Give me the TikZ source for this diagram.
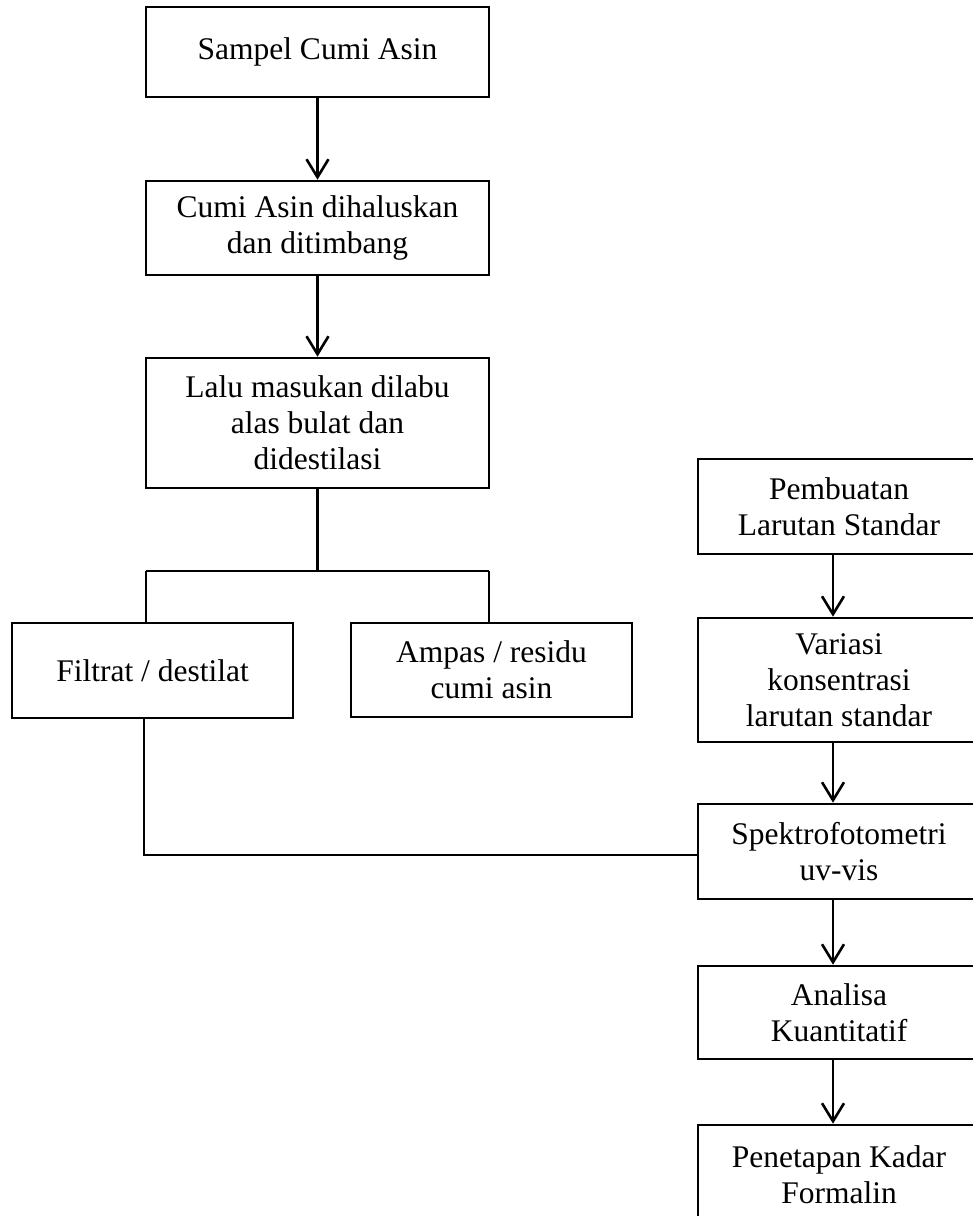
\documentclass[tikz,border=0pt]{standalone}
\usepackage{fontspec}
\setmainfont{Liberation Serif}
\usetikzlibrary{arrows.meta}
\begin{document}
\begin{tikzpicture}[x=1pt,y=-1pt,
  box/.style={draw, line width=2.6pt, inner sep=0pt, align=center,
    font=\fontsize{31.5}{36}\selectfont},
  conn/.style={line width=2.6pt},
  arr/.style={line width=2.6pt, -{Straight Barb[length=18pt,width=22pt,line width=2.6pt]}}]
\useasboundingbox (0,0) rectangle (973,1216);
\fill[white] (0,0) rectangle (973,1216);
% left column
\node[box, minimum width=343pt, minimum height=90pt] (b1) at (317.5,52) {Sampel Cumi Asin};
\node[box, minimum width=343pt, minimum height=94pt] (b2) at (317.5,228) {Cumi Asin dihaluskan\\dan ditimbang};
\node[box, minimum width=343pt, minimum height=130pt] (b3) at (317.5,423) {Lalu masukan dilabu\\alas bulat dan\\didestilasi};
\node[box, minimum width=281pt, minimum height=95pt] (b4) at (152.5,670.5) {Filtrat / destilat};
\node[box, minimum width=281pt, minimum height=94pt] (b5) at (491.5,670) {Ampas / residu\\cumi asin};
% right column
\node[box, minimum width=282pt, minimum height=95pt] (b6) at (839,506.5) {Pembuatan\\Larutan Standar};
\node[box, minimum width=282pt, minimum height=124pt] (b7) at (839,680) {Variasi\\konsentrasi\\larutan standar};
\node[box, minimum width=282pt, minimum height=95pt] (b8) at (839,851.5) {Spektrofotometri\\uv-vis};
\node[box, minimum width=282pt, minimum height=93pt] (b9) at (839,1012.5) {Analisa\\Kuantitatif};
\node[box, minimum width=282pt, minimum height=100pt] (b10) at (839,1175) {Penetapan Kadar\\Formalin};
% helper coordinates
\coordinate (split) at (317.5,571);
\coordinate (lx) at (146,0);
\coordinate (rx) at (489,0);
\coordinate (fx) at (144,0);
\coordinate (jy) at (0,855);
\coordinate (cx) at (833,0);
% left arrows
\draw[arr] (b1.south) -- (b2.north);
\draw[arr] (b2.south) -- (b3.north);
% split
\draw[conn] (b3.south) -- (split);
\draw[conn] (split -| lx) -- (split -| rx);
\draw[conn] (split -| lx) -- (b4.north -| lx);
\draw[conn] (split -| rx) -- (b5.north -| rx);
% join
\draw[conn] (b4.south -| fx) -- (fx |- jy) -- (b8.west |- jy);
% right arrows
\draw[arr] (b6.south -| cx) -- (b7.north -| cx);
\draw[arr] (b7.south -| cx) -- (b8.north -| cx);
\draw[arr] (b8.south -| cx) -- (b9.north -| cx);
\draw[arr] (b9.south -| cx) -- (b10.north -| cx);
\end{tikzpicture}
\end{document}
